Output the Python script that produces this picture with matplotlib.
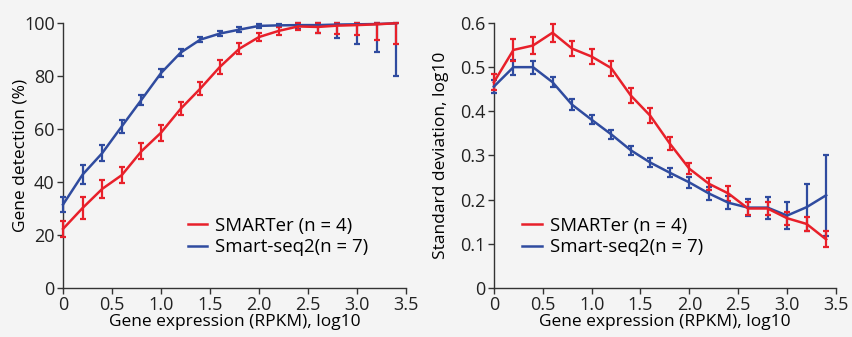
import numpy as np
import matplotlib
matplotlib.use("Agg")
import matplotlib.pyplot as plt

# expression bins (log10 RPKM)
expr = [0, 0.2, 0.4, 0.6, 0.8, 1.0, 1.2, 1.4, 1.6, 1.8, 2.0, 2.2, 2.4, 2.6, 2.8, 3.0, 3.2, 3.4]

# gene detection (%)
smarter_det = [22.3, 30.2, 37.4, 42.6, 51.6, 58.6, 67.6, 75.2, 83.4, 90.3, 94.7, 97.0, 98.7, 98.5, 99.0, 99.2, 99.5, 99.9]
smarter_det_lo = [3.0, 4.0, 3.5, 3.0, 3.0, 3.0, 2.5, 2.5, 2.5, 2.0, 1.5, 1.5, 1.5, 2.4, 3.3, 3.7, 5.9, 8.0]
seq2_det = [31.5, 42.8, 50.9, 61.0, 71.0, 81.1, 88.8, 93.7, 96.0, 97.5, 98.9, 99.1, 99.2, 99.2, 99.4, 99.5, 99.6, 99.9]
seq2_det_lo = [3.0, 3.5, 3.0, 2.5, 2.0, 1.5, 1.2, 1.0, 1.0, 0.8, 0.7, 0.5, 1.5, 3.0, 5.2, 7.6, 10.4, 19.8]

# standard deviation, log10
smarter_sd = [0.466, 0.539, 0.549, 0.578, 0.542, 0.524, 0.498, 0.436, 0.390, 0.327, 0.270, 0.236, 0.214, 0.180, 0.180, 0.158, 0.145, 0.110]
smarter_sd_err = [0.018, 0.025, 0.02, 0.02, 0.017, 0.017, 0.017, 0.017, 0.017, 0.015, 0.013, 0.013, 0.017, 0.015, 0.015, 0.015, 0.015, 0.018]
seq2_sd = [0.456, 0.500, 0.500, 0.466, 0.415, 0.381, 0.348, 0.312, 0.284, 0.261, 0.239, 0.214, 0.193, 0.182, 0.182, 0.164, 0.183, 0.210]
seq2_sd_err = [0.015, 0.017, 0.015, 0.012, 0.012, 0.01, 0.01, 0.01, 0.01, 0.01, 0.013, 0.015, 0.015, 0.02, 0.025, 0.03, 0.053, 0.092]

labels = ["SMARTer (n = 4)", "Smart-seq2(n = 7)"]
red = "#e8202a"
blue = "#2f4b9f"
bg = "#f4f4f4"

plt.rcParams["font.family"] = ["Open Sans", "DejaVu Sans"]
plt.rcParams["font.size"] = 12.5

fig = plt.figure(figsize=(8.53, 3.37), dpi=100, facecolor=bg)
ax1 = fig.add_axes([0.0739, 0.1454, 0.402, 0.7864], facecolor=bg)
ax2 = fig.add_axes([0.579, 0.1454, 0.401, 0.7864], facecolor=bg)

def errbar(ax, y, yerr, color, label):
    ax.errorbar(expr, y, yerr=yerr, color=color, lw=1.8, elinewidth=1.6,
                capsize=2.5, capthick=1.6, label=label, clip_on=False, zorder=3)

# upper error bars stop at 100 %
smarter_hi = [min(e, 100 - v) for v, e in zip(smarter_det, smarter_det_lo)]
seq2_hi = [min(e, 100 - v) for v, e in zip(seq2_det, seq2_det_lo)]
errbar(ax1, seq2_det, [seq2_det_lo, seq2_hi], blue, labels[1])
errbar(ax1, smarter_det, [smarter_det_lo, smarter_hi], red, labels[0])
errbar(ax2, seq2_sd, seq2_sd_err, blue, labels[1])
errbar(ax2, smarter_sd, smarter_sd_err, red, labels[0])

ax1.set_ylim(0, 100)
ax1.set_yticks([0, 20, 40, 60, 80, 100])
ax1.set_ylabel("Gene detection (%)")
ax1.yaxis.set_label_coords(-0.1, 0.5)
ax2.set_ylim(0, 0.6)
ax2.set_yticks([0, 0.1, 0.2, 0.3, 0.4, 0.5, 0.6])
ax2.set_yticklabels(["0", "0.1", "0.2", "0.3", "0.4", "0.5", "0.6"])
ax2.set_ylabel("Standard deviation, log10")
ax2.yaxis.set_label_coords(-0.132, 0.5)

for ax in (ax1, ax2):
    ax.set_xlim(0, 3.5)
    ax.set_xticks([0, 0.5, 1.0, 1.5, 2.0, 2.5, 3.0, 3.5])
    ax.set_xticklabels(["0", "0.5", "1.0", "1.5", "2.0", "2.5", "3.0", "3.5"])
    ax.set_xlabel("Gene expression (RPKM), log10", labelpad=0)
    for s in ("top", "right"):
        ax.spines[s].set_visible(False)
    for s in ("left", "bottom"):
        ax.spines[s].set_color("#333333")
        ax.spines[s].set_linewidth(1.0)
    ax.tick_params(direction="out", length=4, width=1.0, color="#333333", pad=2,
                   labelcolor="#222222", labelsize=13)
    h, l = ax.get_legend_handles_labels()
    h = [hh[0] for hh in h][::-1]
    l = l[::-1]
    ax.legend(h, l, frameon=False, handlelength=1.05, handletextpad=0.45,
              labelspacing=0.2, fontsize=13.4, borderpad=0.2,
              loc="lower left", bbox_to_anchor=(0.325, 0.07) if ax is ax1 else (0.045, 0.07))

fig.savefig("out.png", dpi=100, facecolor=bg)
